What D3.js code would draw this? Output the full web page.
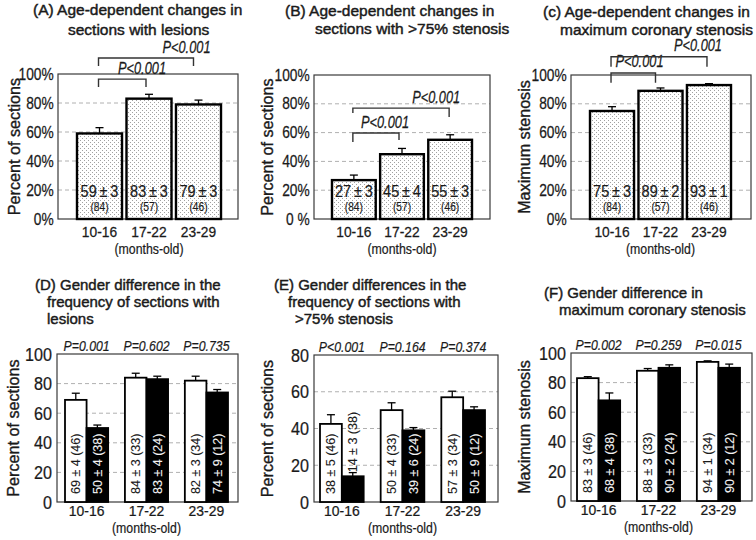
<!DOCTYPE html>
<html><head><meta charset="utf-8">
<script src="https://cdn.jsdelivr.net/npm/d3@7"></script>
<style>body{margin:0;background:#fff}svg{display:block}text{font-family:Arial,"Liberation Sans",sans-serif}</style>
</head><body><svg id="c" width="756" height="540"></svg>
<script>
// ---------- DATA ----------
const ageGroups = ["10-16", "17-22", "23-29"];
const ageUnit = "(months-old)";
const pctTicks = [0, 20, 40, 60, 80, 100];
const pctTickLabels = ["0%", "20%", "40%", "60%", "80%", "100%"];
const pctTickLabelsB = ["0 %", "20%", "40%", "60%", "80%", "100%"];
const ticks100 = [0, 20, 40, 60, 80, 100];
const ticks80 = [0, 20, 40, 60, 80];
const sectionsN = [84, 57, 46];

// (A) sections with lesions
const lesionMean = [59, 83, 79];
const lesionSem = [3, 3, 3];
const lesionErrBar = [4, 3, 3];
const lesionPvals = ["P<0.001", "P<0.001"];
// (B) sections with >75% stenosis
const sten75Mean = [27, 45, 55];
const sten75Sem = [3, 4, 3];
const sten75ErrBar = [3.5, 4, 3.5];
const sten75Pvals = ["P<0.001", "P<0.001"];
// (C) maximum coronary stenosis
const maxStenMean = [75, 89, 93];
const maxStenSem = [3, 2, 1];
const maxStenErrBar = [3, 2, 1];
const maxStenPvals = ["P<0.001", "P<0.001"];

// Gender groups (white bars / black bars)
const whiteN = [46, 33, 34];
const blackN = [38, 24, 12];
// (D)
const lesionWhite = [69, 84, 82], lesionWhiteLabel = [69, 84, 82], lesionWhiteSem = [4, 3, 3], lesionWhiteErrBar = [4.5, 3, 3];
const lesionBlack = [50, 83, 74], lesionBlackLabel = [50, 83, 74], lesionBlackSem = [4, 4, 9], lesionBlackErrBar = [2, 2, 2];
const lesionGenderP = ["P=0.001", "P=0.602", "P=0.735"];
// (E)
const sten75White = [42.5, 50, 57], sten75WhiteLabel = [38, 50, 57], sten75WhiteSem = [5, 4, 3], sten75WhiteErrBar = [5, 4, 3.3];
const sten75Black = [14, 39, 50], sten75BlackLabel = [14, 39, 50], sten75BlackSem = [3, 6, 9], sten75BlackErrBar = [2, 1.5, 1.8];
const sten75GenderP = ["P<0.001", "P=0.164", "P=0.374"];
// (F)
const maxWhite = [83, 88, 94], maxWhiteLabel = [83, 88, 94], maxWhiteSem = [3, 3, 1], maxWhiteErrBar = [1, 1.5, 0.7];
const maxBlack = [68, 90, 90], maxBlackLabel = [68, 90, 90], maxBlackSem = [4, 2, 2], maxBlackErrBar = [5, 2, 2.5];
const maxGenderP = ["P=0.002", "P=0.259", "P=0.015"];

// ---------- LAYOUT ----------
const FONT = "Arial, 'Liberation Sans', sans-serif";
const INK = "#1a1a1a";
const svg = d3.select("#c");
const defs = svg.append("defs");
const pat = defs.append("pattern").attr("id", "dots").attr("width", 4).attr("height", 4).attr("patternUnits", "userSpaceOnUse");
pat.append("rect").attr("width", 4).attr("height", 4).attr("fill", "#fff");
pat.append("rect").attr("x", 0).attr("y", 0).attr("width", 1).attr("height", 1).attr("fill", "#a0a0a0");
pat.append("rect").attr("x", 2).attr("y", 2).attr("width", 1).attr("height", 1).attr("fill", "#a0a0a0");

function T(g, x, y, s, o = {}) {
  const fill = o.fill || INK;
  return g.append("text")
    .attr("transform", `translate(${x},${y})` + (o.rot ? ` rotate(${o.rot})` : "") + ` scale(${o.sx ?? 1},1)`)
    .attr("text-anchor", o.anchor || "middle")
    .style("font-size", (o.size || 13) + "px")
    .style("font-style", o.italic ? "italic" : "normal")
    .style("fill", fill)
    .style("stroke", o.bold ? fill : "none")
    .style("stroke-width", o.bold || 0)
    .text(s);
}

function frameAndGrid(g, p, y, ticks) {
  const f = p.frame;
  g.selectAll(null).data(ticks.filter(d => d > ticks[0] && d < ticks[ticks.length - 1])).join("line")
    .attr("x1", f.x0).attr("x2", f.x1).attr("y1", d => y(d)).attr("y2", d => y(d))
    .attr("stroke", "#b0b0b0").attr("stroke-dasharray", "4,3");
  g.append("rect").attr("x", f.x0).attr("y", f.y0).attr("width", f.x1 - f.x0).attr("height", f.y1 - f.y0)
    .attr("fill", "none").attr("stroke", "#3a3a3a").attr("stroke-width", 1.2);
}

function axes(g, p, x, y, ticks, labels, yFont, ySx, xFont, xSx) {
  const f = p.frame;
  const ya = g.append("g").attr("transform", `translate(${f.x0},0)`)
    .call(d3.axisLeft(y).tickValues(ticks).tickSize(0).tickPadding(p.yPad).tickFormat((d, i) => labels[i]));
  ya.select(".domain").remove();
  ya.selectAll("text").attr("font-family", FONT).style("font-size", yFont + "px").attr("fill", INK)
    .style("stroke", INK).style("stroke-width", 0.25).attr("transform", `scale(${ySx},1)`);
  const xa = g.append("g").attr("transform", `translate(0,${f.y1})`)
    .call(d3.axisBottom(x).tickSize(0).tickPadding(p.xPad));
  xa.select(".domain").remove();
  xa.selectAll("text").attr("font-family", FONT).style("font-size", xFont + "px").attr("fill", INK)
    .style("stroke", INK).style("stroke-width", 0.25).attr("transform", `scale(${xSx},1)`);
  T(g, x(ageGroups[1]) + x.bandwidth() / 2, f.y1 + p.unitDy, ageUnit, { size: 14, sx: 0.88, bold: 0.2 });
  T(g, p.yTitleX, (f.y0 + f.y1) / 2, p.yTitle, { size: 17, rot: -90, sx: 0.95, bold: 0.35 });
  p.title.forEach(l => T(g, l[0], l[1], l[2], { size: p.titleSize, anchor: "start", sx: 1, bold: 0.45 }));
}

function errBars(g, xs, w, vals, errs, y) {
  vals.forEach((v, i) => {
    const cx = xs[i] + w / 2;
    g.append("line").attr("x1", cx).attr("x2", cx).attr("y1", y(v)).attr("y2", y(v + errs[i])).attr("stroke", "#000").attr("stroke-width", 1.3);
    g.append("line").attr("x1", cx - 4).attr("x2", cx + 4).attr("y1", y(v + errs[i])).attr("y2", y(v + errs[i])).attr("stroke", "#000").attr("stroke-width", 1.3);
  });
}

function topPanel(p) {
  const g = svg.append("g");
  const f = p.frame;
  const y = d3.scaleLinear().domain([0, 100]).range([f.y1, f.y0]);
  const x = d3.scaleBand().domain(ageGroups).range(p.bars).paddingInner(0.05);
  frameAndGrid(g, p, y, pctTicks);
  errBars(g, ageGroups.map(a => x(a)), x.bandwidth(), p.mean, p.err, y);
  g.selectAll(null).data(p.mean).join("rect")
    .attr("x", (d, i) => x(ageGroups[i]) + 1).attr("y", d => y(d))
    .attr("width", x.bandwidth() - 2).attr("height", d => y(0) - y(d))
    .attr("fill", "url(#dots)").attr("stroke", "#000").attr("stroke-width", 2.4);
  p.mean.forEach((m, i) => {
    const cx = x(ageGroups[i]) + x.bandwidth() / 2;
    T(g, cx, y(0) - 22, `${m}\u2009±\u2009${p.sem[i]}`, { size: 17, sx: 0.85, bold: 0.25 });
    T(g, cx, y(0) - 8, `(${sectionsN[i]})`, { size: 12, sx: 0.85, bold: 0.15 });
  });
  // significance brackets
  p.brackets.forEach((b, k) => {
    const xl = x(ageGroups[b.from]) + x.bandwidth() / 2 - 1;
    const xr = x(ageGroups[b.to]) + x.bandwidth() / 2 - b.rOff;
    const path = d3.path();
    path.moveTo(xl, y(b.dropL)); path.lineTo(xl, y(b.top)); path.lineTo(xr, y(b.top)); path.lineTo(xr, y(b.dropR));
    g.append("path").attr("d", path.toString()).attr("fill", "none").attr("stroke", "#333").attr("stroke-width", 1.4);
    T(g, xr + b.lab, y(b.top) - 5.5, p.pvals[k], { size: 16, italic: true, anchor: "end", sx: 0.8, bold: 0.25 });
  });
  axes(g, p, x, y, pctTicks, p.tickLabels, 16, 0.86, 15, 0.92);
}

function bottomPanel(p) {
  const g = svg.append("g");
  const f = p.frame;
  const ticks = p.ticks;
  const y = d3.scaleLinear().domain([0, ticks[ticks.length - 1]]).range([f.y1, f.y0]);
  const x = d3.scaleBand().domain(ageGroups).range(p.bars).paddingInner(0.28);
  const sub = d3.scaleBand().domain(["white", "black"]).range([0, x.bandwidth()]);
  frameAndGrid(g, p, y, ticks);
  const xsW = ageGroups.map(a => x(a) + sub("white"));
  const xsB = ageGroups.map(a => x(a) + sub("black"));
  const w = sub.bandwidth();
  errBars(g, xsW, w, p.white, p.whiteErr, y);
  errBars(g, xsB, w, p.black, p.blackErr, y);
  g.selectAll(null).data(p.white).join("rect")
    .attr("x", (d, i) => xsW[i]).attr("y", d => y(d)).attr("width", w).attr("height", d => y(0) - y(d))
    .attr("fill", "#fff").attr("stroke", "#000").attr("stroke-width", 1.8);
  g.selectAll(null).data(p.black).join("rect")
    .attr("x", (d, i) => xsB[i]).attr("y", d => y(d)).attr("width", w).attr("height", d => y(0) - y(d))
    .attr("fill", "#000").attr("stroke", "#000").attr("stroke-width", 1.8);
  const lab = (xs, vals, labels, sems, ns, fill) => vals.forEach((v, i) => {
    const cx = xs[i] + w / 2 + 4.5;
    const s = `${labels[i]} ± ${sems[i]} (${ns[i]})`;
    const inside = (y(0) - y(v)) > 60;
    const y0 = inside ? f.y1 - 8 : y(v) - 4;
    T(g, cx, y0, s, { size: 12.5, rot: -90, anchor: "start", fill: inside ? fill : INK, bold: 0.1 });
  });
  lab(xsW, p.white, p.whiteLabel, p.whiteSem, whiteN, INK);
  lab(xsB, p.black, p.blackLabel, p.blackSem, blackN, "#f2f2f2");
  p.pvals.forEach((s, i) => T(g, x(ageGroups[i]) + x.bandwidth() / 2, f.y0 - 3.5, s, { size: 15, italic: true, sx: 0.82, bold: 0.2 }));
  axes(g, p, x, y, ticks, ticks.map(String), 19, 0.85, 15.5, 0.9);
}

topPanel({
  frame: { x0: 58, x1: 238, y0: 74, y1: 219 }, bars: [76, 222], yPad: 5, xPad: 7, unitDy: 35,
  yTitle: "Percent of sections", yTitleX: 20, tickLabels: pctTickLabels, titleSize: 15.5,
  title: [[33, 15, "(A)  Age-dependent changes in"], [68, 34.5, "sections with lesions"]],
  mean: lesionMean, sem: lesionSem, err: lesionErrBar, pvals: lesionPvals,
  brackets: [{ from: 0, to: 1, top: 96.5, dropL: 91, dropR: 91, rOff: 3, lab: 20 },
             { from: 0, to: 2, top: 111, dropL: 105.5, dropR: 105.5, rOff: 5, lab: 17 }]
});
topPanel({
  frame: { x0: 314, x1: 490, y0: 75, y1: 219 }, bars: [331, 473], yPad: 5, xPad: 7, unitDy: 35,
  yTitle: "Percent of sections", yTitleX: 273, tickLabels: pctTickLabelsB, titleSize: 15.5,
  title: [[285, 15.5, "(B) Age-dependent changes in"], [315, 33.5, "sections with >75% stenosis"]],
  mean: sten75Mean, sem: sten75Sem, err: sten75ErrBar, pvals: sten75Pvals,
  brackets: [{ from: 0, to: 1, top: 59.7, dropL: 53.5, dropR: 54.9, rOff: 3, lab: 10 },
             { from: 0, to: 2, top: 77, dropL: 73.6, dropR: 70.8, rOff: 1, lab: 11 }]
});
topPanel({
  frame: { x0: 571, x1: 751, y0: 75, y1: 219 }, bars: [589, 732], yPad: 5, xPad: 7, unitDy: 35,
  yTitle: "Maximum stenosis", yTitleX: 530, tickLabels: pctTickLabels, titleSize: 15.5,
  title: [[543, 17, "(c) Age-dependent changes in"], [560, 35, "maximum coronary stenosis"]],
  mean: maxStenMean, sem: maxStenSem, err: maxStenErrBar, pvals: maxStenPvals,
  brackets: [{ from: 0, to: 1, top: 101.4, dropL: 94.7, dropR: 94.7, rOff: 5, lab: 8 },
             { from: 0, to: 2, top: 112.7, dropL: 105.8, dropR: 105.8, rOff: 2, lab: 15 }]
});
bottomPanel({
  frame: { x0: 57, x1: 238, y0: 354, y1: 502 }, bars: [65, 228], yPad: 6, xPad: 3, unitDy: 30.5, ticks: ticks100,
  yTitle: "Percent of sections", yTitleX: 19, titleSize: 15,
  title: [[35, 290, "(D) Gender difference in the"], [47, 307, "frequency of sections with"], [47, 324, "lesions"]],
  white: lesionWhite, whiteLabel: lesionWhiteLabel, whiteSem: lesionWhiteSem, whiteErr: lesionWhiteErrBar,
  black: lesionBlack, blackLabel: lesionBlackLabel, blackSem: lesionBlackSem, blackErr: lesionBlackErrBar, pvals: lesionGenderP
});
bottomPanel({
  frame: { x0: 314, x1: 498, y0: 355, y1: 502 }, bars: [320, 485], yPad: 6, xPad: 3, unitDy: 30.5, ticks: ticks80,
  yTitle: "Percent of sections", yTitleX: 273, titleSize: 15,
  title: [[274, 290, "(E)  Gender differences in the"], [288, 307, "frequency of sections with"], [295, 324, ">75% stenosis"]],
  white: sten75White, whiteLabel: sten75WhiteLabel, whiteSem: sten75WhiteSem, whiteErr: sten75WhiteErrBar,
  black: sten75Black, blackLabel: sten75BlackLabel, blackSem: sten75BlackSem, blackErr: sten75BlackErrBar, pvals: sten75GenderP
});
bottomPanel({
  frame: { x0: 571, x1: 752, y0: 353, y1: 501 }, bars: [577, 740], yPad: 6, xPad: 3, unitDy: 30.5, ticks: ticks100,
  yTitle: "Maximum stenosis", yTitleX: 530, titleSize: 15,
  title: [[544, 298, "(F) Gender difference in"], [559, 315, "maximum coronary stenosis"]],
  white: maxWhite, whiteLabel: maxWhiteLabel, whiteSem: maxWhiteSem, whiteErr: maxWhiteErrBar,
  black: maxBlack, blackLabel: maxBlackLabel, blackSem: maxBlackSem, blackErr: maxBlackErrBar, pvals: maxGenderP
});
</script></body></html>
